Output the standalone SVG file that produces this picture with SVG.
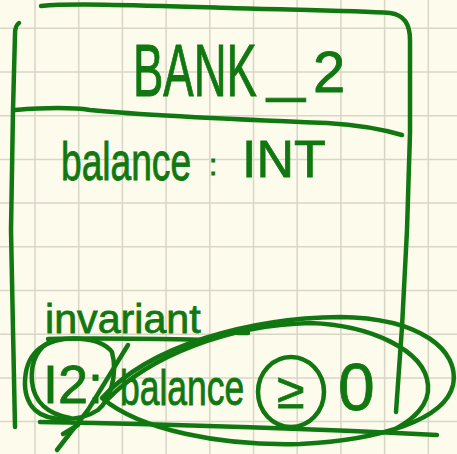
<svg xmlns="http://www.w3.org/2000/svg" width="457" height="454" viewBox="0 0 457 454">
  <style>
    .paper { fill: #fdfbec; }
    .grid { stroke: #d9d5c7; stroke-width: 1.5; fill: none; }
    .pen { stroke: #117811; stroke-width: 4.5; fill: none; stroke-linecap: round; stroke-linejoin: round; }
    .ink { fill: #117811; stroke: #117811; stroke-width: 0.8; vector-effect: non-scaling-stroke; font-family: "Liberation Sans", Arial, sans-serif; }
  </style>

  <!-- squared paper -->
  <rect class="paper" x="0" y="0" width="457" height="454"/>
  <path class="grid" d="M35,0V454 M78.7,0V454 M122.4,0V454 M166.1,0V454 M209.8,0V454 M253.5,0V454 M297.2,0V454 M340.9,0V454 M384.6,0V454 M428.3,0V454
                        M0,28.3H457 M0,72H457 M0,115.7H457 M0,159.4H457 M0,203.1H457 M0,246.8H457 M0,290.5H457 M0,334.2H457 M0,377.9H457 M0,421.6H457"/>

  <!-- class box BANK_2 -->
  <g id="bank2">
    <path class="pen" d="M41,6 C70,3 130,5 230,8 C300,10 360,11 390,13 C405,15 410,25 410,40 L410,133 L407,230 L402,327 L396,412"/>
    <path class="pen" d="M19,23 C16,25 15,28 15,34 L13,110 L11,230 L13,330 L15,427"/>
    <path class="pen" d="M15,110 C40,108 70,107 90,110 C150,116 250,120 327,123 C360,125 385,130 402,135"/>

    <g id="bank2-title">
      <text class="ink" font-size="74" transform="translate(133,96) scale(0.615,1)">BANK</text>
      <text class="ink" font-size="60" transform="translate(267,90) scale(1.14,1)">_</text>
      <text class="ink" font-size="58" x="313" y="92">2</text>
    </g>

    <g id="bank2-attribute">
      <text class="ink" font-size="54" transform="translate(61,180) scale(0.688,1)">balance</text>
      <text class="ink" font-size="30" x="209" y="175">:</text>
      <text class="ink" font-size="52" x="242" y="177">INT</text>
    </g>

    <g id="bank2-invariant">
      <text class="ink" x="45" y="333" font-size="40" transform="translate(45,333) scale(1.03,1) translate(-45,-333)">invariant</text>
      <path class="pen" d="M48,339 C100,338 160,339 207,340 M238,333 L248,333"/>
      <text class="ink" font-size="54" x="43" y="403">I2:</text>
      <text class="ink" font-size="50" transform="translate(120,405) scale(0.709,1)">balance</text>
      <text class="ink" font-size="50" x="277" y="408">≥</text>
      <text class="ink" font-size="66" x="338" y="410">0</text>
    </g>
  </g>

  <!-- pen marks over the invariant clause -->
  <g id="marks">
    <!-- loops round the tag I2 -->
    <path class="pen" d="M112,352 C100,336 60,334 40,348 C22,362 20,395 35,410 C48,422 80,422 98,410 C110,400 118,375 112,352"/>
    <path class="pen" d="M55,340 C38,345 30,362 32,382 C34,402 48,414 70,418"/>
    <!-- strike through the tag -->
    <path class="pen" d="M57,450 L88,410 L128,345"/>
    <path class="pen" d="M63,434 L78,425"/>
    <!-- loops round the expression -->
    <path class="pen" d="M102,398 C150,345 250,318 340,317 C420,318 460,350 453,385 C445,420 380,440 300,444 C220,446 140,430 102,398"/>
    <path class="pen" d="M107,400 C150,355 230,325 310,323 C370,325 425,350 428,385 C430,405 412,420 397,428"/>
    <path class="pen" d="M40,422 C150,424 300,428 437,435"/>
    <!-- ring round the operator -->
    <ellipse class="pen" cx="291" cy="392" rx="33" ry="35"/>
  </g>
</svg>
